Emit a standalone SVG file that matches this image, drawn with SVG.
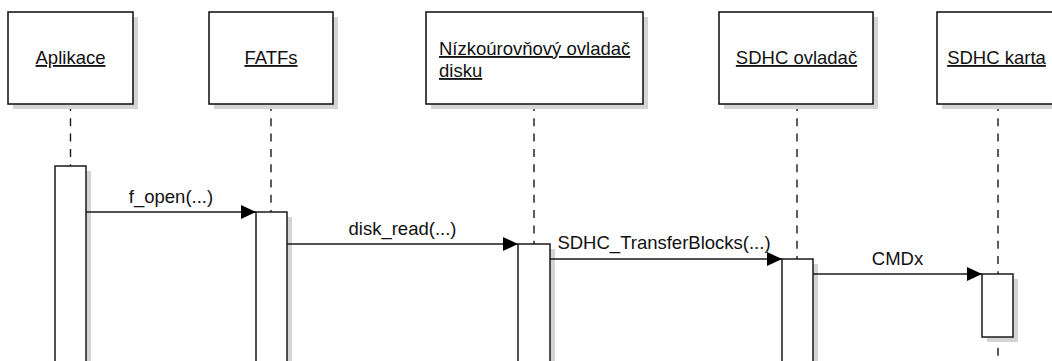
<svg xmlns="http://www.w3.org/2000/svg" width="1052" height="361" viewBox="0 0 1052 361">
  <style>
    .box { fill: #ffffff; stroke: #1a1a1a; stroke-width: 1.6; }
    .shadow { fill: #d4d4d4; stroke: none; }
    .bar { fill: #ffffff; stroke: #1a1a1a; stroke-width: 1.5; }
    .life { stroke: #1a1a1a; stroke-width: 1.4; stroke-dasharray: 8 7.3; fill: none; }
    .msg { stroke: #1a1a1a; stroke-width: 1.4; fill: none; marker-end: url(#head); }
    .lbl { font-family: "Liberation Sans", Arial, sans-serif; font-size: 18.5px; fill: #111111; }
    .name { text-decoration: underline; }
  </style>
  <defs>
    <marker id="head" viewBox="0 0 15 14" refX="15" refY="7" markerWidth="15" markerHeight="14" markerUnits="userSpaceOnUse" orient="auto">
      <path d="M0,0 L15,7 L0,14 Z" fill="#000000"/>
    </marker>
  </defs>

  <rect width="1052" height="361" fill="#ffffff"/>

  <!-- lifelines (dashed), drawn beneath the activation bars -->
  <g id="lifelines">
    <line class="life" x1="70.5" y1="103" x2="70.5" y2="361"/>
    <line class="life" x1="271" y1="103" x2="271" y2="361"/>
    <line class="life" x1="534" y1="103" x2="534" y2="361"/>
    <line class="life" x1="797" y1="103" x2="797" y2="361"/>
    <line class="life" x1="998" y1="103" x2="998" y2="361"/>
  </g>

  <g id="aplikace">
    <rect class="shadow" x="13" y="17" width="125" height="92"/>
    <rect class="box" x="8" y="12" width="125" height="92"/>
    <text class="lbl name" x="70.5" y="64" text-anchor="middle">Aplikace</text>
    <rect class="shadow" x="60" y="171" width="31" height="200"/>
    <rect class="bar" x="55" y="166" width="31" height="200"/>
  </g>

  <g id="fatfs">
    <rect class="shadow" x="214" y="17" width="124" height="92"/>
    <rect class="box" x="209" y="12" width="124" height="92"/>
    <text class="lbl name" x="271" y="64" text-anchor="middle">FATFs</text>
    <rect class="shadow" x="261" y="217" width="31" height="160"/>
    <rect class="bar" x="256" y="212" width="31" height="160"/>
  </g>

  <g id="disk-driver">
    <rect class="shadow" x="431" y="17" width="217" height="92"/>
    <rect class="box" x="426" y="12" width="217" height="92"/>
    <text class="lbl name" x="439" y="55">Nízkoúrovňový ovladač</text>
    <text class="lbl name" x="439" y="77">disku</text>
    <rect class="shadow" x="523" y="249" width="32" height="130"/>
    <rect class="bar" x="518" y="244" width="32" height="130"/>
  </g>

  <g id="sdhc-driver">
    <rect class="shadow" x="724" y="17" width="154" height="92"/>
    <rect class="box" x="719" y="12" width="154" height="92"/>
    <text class="lbl name" x="796.5" y="64" text-anchor="middle">SDHC ovladač</text>
    <rect class="shadow" x="787" y="264" width="31" height="110"/>
    <rect class="bar" x="782" y="259" width="31" height="110"/>
  </g>

  <g id="sdhc-card">
    <rect class="shadow" x="942" y="17" width="122" height="92"/>
    <rect class="box" x="937" y="12" width="122" height="92"/>
    <text class="lbl name" x="996.5" y="64" text-anchor="middle">SDHC karta</text>
    <rect class="shadow" x="987" y="279" width="31" height="63"/>
    <rect class="bar" x="982" y="274" width="31" height="63"/>
  </g>

  <!-- synchronous calls -->
  <g id="connectors">
    <line class="msg" x1="86" y1="212" x2="256" y2="212"/>
    <text class="lbl" x="171" y="203" text-anchor="middle">f_open(...)</text>
    <line class="msg" x1="287" y1="244" x2="518" y2="244"/>
    <text class="lbl" x="402.5" y="235" text-anchor="middle">disk_read(...)</text>
    <line class="msg" x1="550" y1="259" x2="782" y2="259"/>
    <text class="lbl" x="664" y="249" text-anchor="middle">SDHC_TransferBlocks(...)</text>
    <line class="msg" x1="813" y1="274" x2="982" y2="274"/>
    <text class="lbl" x="897.5" y="265" text-anchor="middle">CMDx</text>
  </g>
</svg>
